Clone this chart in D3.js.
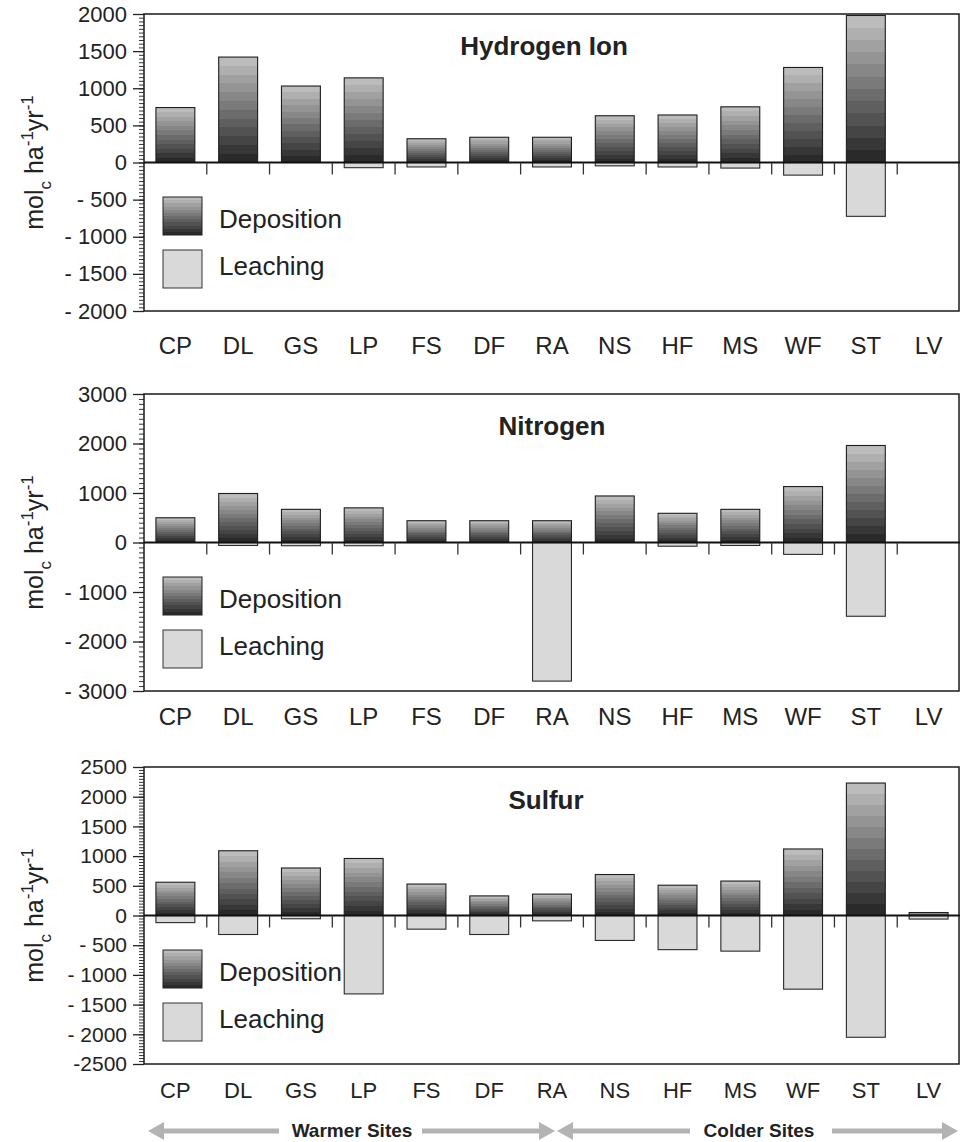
<!DOCTYPE html>
<html>
<head>
<meta charset="utf-8">
<script src="https://cdn.jsdelivr.net/npm/d3@7/dist/d3.min.js"></script>
<style>
  html, body { margin: 0; padding: 0; background: #fff; }
  svg { display: block; }
  text { font-family: "Liberation Sans", Arial, Helvetica, sans-serif; fill: #222; }
</style>
</head>
<body>
<svg id="chart" width="961" height="1142"></svg>
<script>
// ---------------- DATA ----------------
const categories = ["CP","DL","GS","LP","FS","DF","RA","NS","HF","MS","WF","ST","LV"];

const hydrogenDeposition = [740, 1420, 1030, 1140, 320, 340, 340, 630, 640, 750, 1280, 1980, 0];
const hydrogenLeaching   = [0, 0, 0, -70, -60, 0, -60, -45, -60, -75, -170, -725, 0];

const nitrogenDeposition = [500, 990, 670, 700, 440, 440, 440, 940, 590, 670, 1130, 1960, 0];
const nitrogenLeaching   = [0, -60, -65, -65, 0, 0, -2800, 0, -75, -60, -240, -1490, 0];

const sulfurDeposition = [560, 1090, 800, 960, 530, 330, 360, 690, 510, 580, 1120, 2230, 50];
const sulfurLeaching   = [-120, -320, -55, -1320, -230, -320, -90, -420, -575, -600, -1240, -2050, -60];

const hydrogenTicks = [2000, 1500, 1000, 500, 0, -500, -1000, -1500, -2000];
const hydrogenTickLabels = ["2000","1500","1000","500","0","- 500","- 1000","- 1500","- 2000"];
const nitrogenTicks = [3000, 2000, 1000, 0, -1000, -2000, -3000];
const nitrogenTickLabels = ["3000","2000","1000","0","- 1000","- 2000","- 3000"];
const sulfurTicks = [2500, 2000, 1500, 1000, 500, 0, -500, -1000, -1500, -2000, -2500];
const sulfurTickLabels = ["2500","2000","1500","1000","500","0","- 500","- 1000","- 1500","- 2000","-2500"];

const panelTitles = ["Hydrogen Ion", "Nitrogen", "Sulfur"];
const legendLabels = ["Deposition", "Leaching"];
const siteGroupLabels = ["Warmer Sites", "Colder Sites"];

// ---------------- LAYOUT ----------------
const panels = [
  { title: panelTitles[0], dep: hydrogenDeposition, lea: hydrogenLeaching, ticks: hydrogenTicks, tickLabels: hydrogenTickLabels,
    domain: [-2000, 2000], minorStep: 50, top: 14, bottom: 311, titleX: 544, titleY: 55, labelY: 354, catFont: 24, tickFont: 22 },
  { title: panelTitles[1], dep: nitrogenDeposition, lea: nitrogenLeaching, ticks: nitrogenTicks, tickLabels: nitrogenTickLabels,
    domain: [-3000, 3000], minorStep: 100, top: 394, bottom: 691, titleX: 552, titleY: 435, labelY: 725, catFont: 24, tickFont: 22 },
  { title: panelTitles[2], dep: sulfurDeposition, lea: sulfurLeaching, ticks: sulfurTicks, tickLabels: sulfurTickLabels,
    domain: [-2500, 2500], minorStep: 50, top: 767, bottom: 1064, titleX: 546, titleY: 809, labelY: 1098, catFont: 22, tickFont: 21 }
];

const left = 144, right = 960;
const svg = d3.select("#chart");

// stepped gradient for deposition bars
const defs = svg.append("defs");
const grad = defs.append("linearGradient").attr("id", "depGrad")
  .attr("x1", 0).attr("y1", 0).attr("x2", 0).attr("y2", 1);
const nSteps = 12;
const colI = d3.interpolateRgb("#bcbcbc", "#2a2a2a");
for (let i = 0; i < nSteps; i++) {
  const c = colI(i / (nSteps - 1));
  grad.append("stop").attr("offset", (i / nSteps)).attr("stop-color", c);
  grad.append("stop").attr("offset", ((i + 1) / nSteps)).attr("stop-color", c);
}

const x = d3.scaleBand().domain(categories).range([left, right]).paddingInner(0.38).paddingOuter(0.19);

panels.forEach(p => {
  const g = svg.append("g");
  const y = d3.scaleLinear().domain(p.domain).range([p.bottom, p.top]);

  // minor ticks
  const minorVals = d3.range(p.domain[0], p.domain[1] + 1, p.minorStep);
  const minorAxis = d3.axisLeft(y).tickValues(minorVals).tickSize(5).tickFormat("");
  const mg = g.append("g").attr("transform", `translate(${left},0)`).call(minorAxis);
  mg.select(".domain").remove();
  mg.selectAll("line").attr("stroke", "#333").attr("stroke-width", 1);

  // major ticks with labels
  const majorAxis = d3.axisLeft(y).tickValues(p.ticks).tickSize(11).tickPadding(6)
    .tickFormat((d, i) => p.tickLabels[i]);
  const ag = g.append("g").attr("transform", `translate(${left},0)`).call(majorAxis);
  ag.select(".domain").remove();
  ag.selectAll("line").attr("stroke", "#222").attr("stroke-width", 1.3);
  ag.selectAll("text").attr("font-size", p.tickFont).attr("fill", "#222")
    .style("font-family", '"Liberation Sans", Arial, sans-serif');

  // frame
  g.append("rect").attr("x", left).attr("y", p.top).attr("width", right - left - 1).attr("height", p.bottom - p.top)
    .attr("fill", "none").attr("stroke", "#1a1a1a").attr("stroke-width", 1.5);

  // leaching bars
  g.selectAll("rect.lea").data(categories.map((c, i) => ({ c, v: p.lea[i] })).filter(d => d.v !== 0))
    .enter().append("rect").attr("class", "lea")
    .attr("x", d => x(d.c)).attr("width", x.bandwidth())
    .attr("y", y(0)).attr("height", d => y(d.v) - y(0))
    .attr("fill", "#d9d9d9").attr("stroke", "#2a2a2a").attr("stroke-width", 1.1);

  // deposition bars
  g.selectAll("rect.dep").data(categories.map((c, i) => ({ c, v: p.dep[i] })).filter(d => d.v !== 0))
    .enter().append("rect").attr("class", "dep")
    .attr("x", d => x(d.c)).attr("width", x.bandwidth())
    .attr("y", d => y(d.v)).attr("height", d => y(0) - y(d.v))
    .attr("fill", "url(#depGrad)").attr("stroke", "#1e1e1e").attr("stroke-width", 1.1);

  // zero line
  g.append("line").attr("x1", left).attr("x2", right).attr("y1", y(0)).attr("y2", y(0))
    .attr("stroke", "#111").attr("stroke-width", 1.8);

  // separator ticks at band boundaries
  const bounds = d3.range(1, categories.length).map(k => left + k * x.step());
  g.selectAll("line.sep").data(bounds).enter().append("line").attr("class", "sep")
    .attr("x1", d => d).attr("x2", d => d).attr("y1", y(0)).attr("y2", y(0) + 12)
    .attr("stroke", "#333").attr("stroke-width", 1.3);

  // category labels
  const xa = d3.axisBottom(x).tickSize(0).tickPadding(0);
  const xg = g.append("g").attr("transform", `translate(0,${p.labelY})`).call(xa);
  xg.select(".domain").remove();
  xg.selectAll("text").attr("font-size", p.catFont).attr("fill", "#222").attr("dy", 0)
    .style("font-family", '"Liberation Sans", Arial, sans-serif');

  // title
  g.append("text").attr("x", p.titleX).attr("y", p.titleY).attr("text-anchor", "middle")
    .attr("font-size", 26).attr("font-weight", "bold").text(p.title);

  // legend
  const lx = 163, ly = p.top + 183;
  g.append("rect").attr("x", lx).attr("y", ly).attr("width", 39).attr("height", 38)
    .attr("fill", "url(#depGrad)").attr("stroke", "#222").attr("stroke-width", 1);
  g.append("rect").attr("x", lx).attr("y", ly + 53).attr("width", 39).attr("height", 38)
    .attr("fill", "#d9d9d9").attr("stroke", "#333").attr("stroke-width", 1);
  g.append("text").attr("x", 219).attr("y", ly + 31).attr("font-size", 26).text(legendLabels[0]);
  g.append("text").attr("x", 219).attr("y", ly + 78).attr("font-size", 26).text(legendLabels[1]);

  // y axis label
  const cy = (p.top + p.bottom) / 2;
  const yl = g.append("text").attr("transform", `translate(43,${cy}) rotate(-90)`)
    .attr("text-anchor", "middle").attr("font-size", 25);
  yl.append("tspan").text("mol");
  yl.append("tspan").attr("font-size", 17).attr("dy", 8).text("c");
  yl.append("tspan").attr("dy", -8).text(" ha");
  yl.append("tspan").attr("font-size", 17).attr("dy", -10).text("-1");
  yl.append("tspan").attr("dy", 10).text("yr");
  yl.append("tspan").attr("font-size", 17).attr("dy", -10).text("-1");
});

// ---------------- site-group arrows ----------------
const arrowY = 1131, arrowCol = "#b3b3b3";
function arrowHead(tipX, dir) {
  const L = 16, H = 9;
  svg.append("path")
    .attr("d", `M${tipX},${arrowY} L${tipX - dir * L},${arrowY - H} L${tipX - dir * L},${arrowY + H} Z`)
    .attr("fill", arrowCol);
}
function shaft(x1, x2) {
  svg.append("rect").attr("x", x1).attr("y", arrowY - 2.5).attr("width", x2 - x1).attr("height", 5).attr("fill", arrowCol);
}
// Warmer
arrowHead(148, -1); shaft(163, 279); shaft(422, 540); arrowHead(555, 1);
svg.append("text").attr("x", 352).attr("y", 1137).attr("text-anchor", "middle")
  .attr("font-size", 19).attr("font-weight", "bold").text(siteGroupLabels[0]);
// Colder
arrowHead(557, -1); shaft(572, 690); shaft(832, 943); arrowHead(958, 1);
svg.append("text").attr("x", 759).attr("y", 1137).attr("text-anchor", "middle")
  .attr("font-size", 19).attr("font-weight", "bold").text(siteGroupLabels[1]);
</script>
</body>
</html>
